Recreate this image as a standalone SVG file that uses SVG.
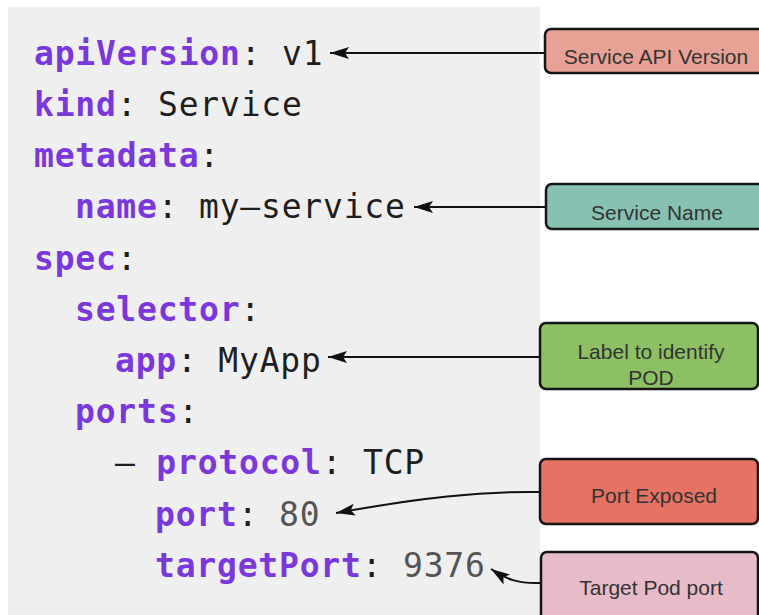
<svg xmlns="http://www.w3.org/2000/svg" width="759" height="615" viewBox="0 0 759 615">
<defs>
<style>
.code{font-family:"DejaVu Sans Mono",monospace;font-size:33px;letter-spacing:0.8px;fill:#1e1e1e}
.k{font-weight:bold;fill:#7a36df}
.n{fill:#555555}
.box{stroke:#151515;stroke-width:2.5}
.lbl{font-family:"Liberation Sans",Arial,sans-serif;font-size:21px;fill:#333333;text-anchor:middle}
.conn{fill:none;stroke:#111111;stroke-width:2}
</style>
<marker id="ah" markerUnits="userSpaceOnUse" markerWidth="20" markerHeight="14" viewBox="0 0 20 14" refX="19" refY="7" orient="auto">
<path d="M0,1 L19,7 L0,13 L4,7 Z" fill="#111111"/>
</marker>
</defs>
<rect x="0" y="0" width="759" height="615" fill="#ffffff"/>
<rect x="8" y="7" width="532" height="610" fill="#efefef"/>
<g id="code">
<text class="code" x="34" y="65"><tspan class="k">apiVersion</tspan>: v1</text>
<text class="code" x="34" y="116"><tspan class="k">kind</tspan>: Service</text>
<text class="code" x="34" y="167"><tspan class="k">metadata</tspan>:</text>
<text class="code" x="75" y="218"><tspan class="k">name</tspan>: my–service</text>
<text class="code" x="34" y="270"><tspan class="k">spec</tspan>:</text>
<text class="code" x="75" y="321"><tspan class="k">selector</tspan>:</text>
<text class="code" x="115" y="372"><tspan class="k">app</tspan>: MyApp</text>
<text class="code" x="75" y="423"><tspan class="k">ports</tspan>:</text>
<text class="code" x="115" y="474">– <tspan class="k">protocol</tspan>: TCP</text>
<text class="code" x="155" y="526"><tspan class="k">port</tspan>: <tspan class="n">80</tspan></text>
<text class="code" x="155" y="577"><tspan class="k">targetPort</tspan>: <tspan class="n">9376</tspan></text>
</g>
<g id="connectors">
<path class="conn" d="M545,53 L330,53" marker-end="url(#ah)"/>
<path class="conn" d="M546,207 L414,207" marker-end="url(#ah)"/>
<path class="conn" d="M541,357 L328,357" marker-end="url(#ah)"/>
<path class="conn" d="M541,492 C480,491 420,498 336,513" marker-end="url(#ah)"/>
<path class="conn" d="M541,583 C518,584 506,579 491,569" marker-end="url(#ah)"/>
</g>
<g id="n-api">
<rect class="box" x="545" y="29" width="222" height="44" rx="6" fill="#e8a195"/>
<text class="lbl" x="656" y="64">Service API Version</text>
</g>
<g id="n-name">
<rect class="box" x="546" y="184" width="221" height="45" rx="6" fill="#86c1b2"/>
<text class="lbl" x="657" y="220">Service Name</text>
</g>
<g id="n-label">
<rect class="box" x="540" y="323" width="218" height="66" rx="6" fill="#8cc063"/>
<text class="lbl" x="651" y="359">Label to identify</text>
<text class="lbl" x="651" y="385">POD</text>
</g>
<g id="n-port">
<rect class="box" x="540" y="459" width="218" height="65" rx="6" fill="#e57262"/>
<text class="lbl" x="654" y="503">Port Exposed</text>
</g>
<g id="n-target">
<rect class="box" x="541" y="552" width="217" height="70" rx="6" fill="#e8bbc9"/>
<text class="lbl" x="651" y="595">Target Pod port</text>
</g>
</svg>
